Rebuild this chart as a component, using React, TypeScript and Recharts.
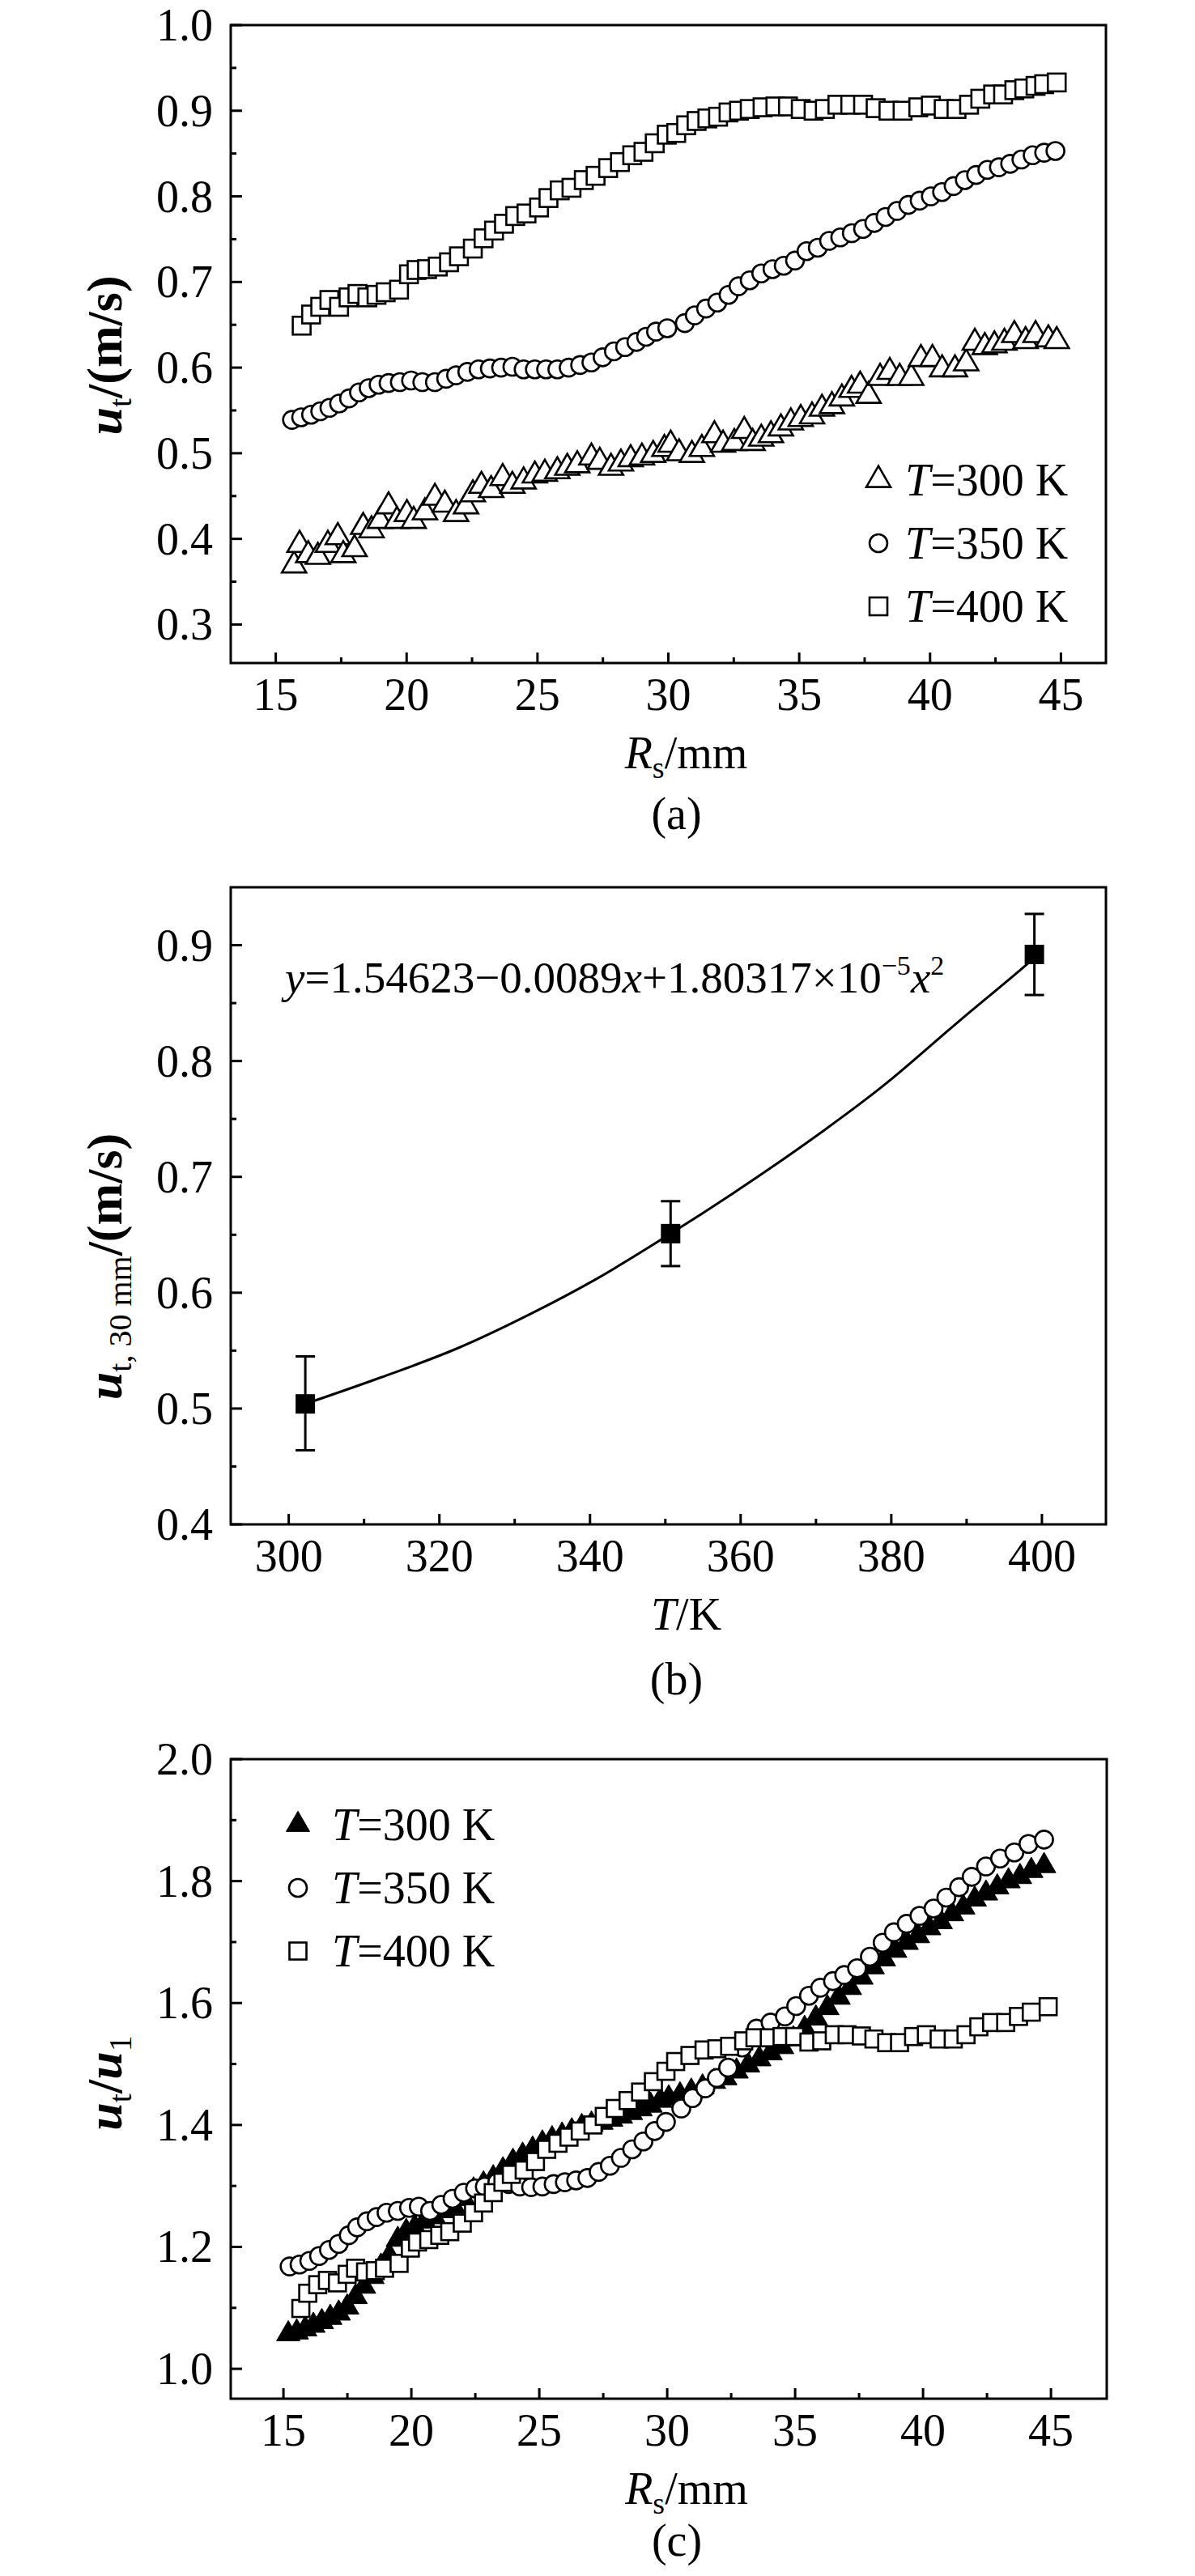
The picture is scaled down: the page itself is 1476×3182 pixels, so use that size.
import React from 'react';
import {
  ScatterChart,
  ComposedChart,
  Scatter,
  Line,
  XAxis,
  YAxis,
  ReferenceArea,
  ErrorBar,
  Legend,
  Label,
} from 'recharts';

const FONT = "'Liberation Serif', 'Times New Roman', serif";
const INK = '#000';
const W = 1476;

// ---------- (a) u_t against R_s, pairs of [R_s (mm), u_t (m/s)]
const a300 = [
  [15.7, 0.369], [15.91, 0.393], [16.24, 0.381], [16.61, 0.379], [16.99, 0.393], [17.37, 0.402],
  [17.58, 0.381], [18.01, 0.388], [18.34, 0.414], [18.66, 0.41], [18.98, 0.421], [19.31, 0.438],
  [19.63, 0.421], [20.01, 0.429], [20.27, 0.421], [20.7, 0.431], [21.08, 0.448], [21.46, 0.44],
  [21.89, 0.429], [22.27, 0.438], [22.53, 0.452], [22.86, 0.462], [23.23, 0.457], [23.67, 0.471],
  [24.04, 0.462], [24.47, 0.467], [24.9, 0.474], [25.28, 0.476], [25.76, 0.479], [26.14, 0.483],
  [26.52, 0.486], [27.06, 0.495], [27.38, 0.49], [27.81, 0.483], [28.19, 0.488], [28.56, 0.493],
  [28.99, 0.495], [29.42, 0.498], [29.85, 0.505], [30.09, 0.51], [30.41, 0.5], [30.9, 0.498],
  [31.28, 0.505], [31.76, 0.521], [32.09, 0.51], [32.52, 0.512], [32.9, 0.526], [33.22, 0.512],
  [33.55, 0.517], [33.92, 0.521], [34.3, 0.529], [34.68, 0.536], [35.06, 0.54], [35.49, 0.543],
  [35.87, 0.552], [36.25, 0.555], [36.63, 0.564], [37.0, 0.574], [37.33, 0.579], [37.65, 0.567],
  [38.09, 0.588], [38.46, 0.595], [38.84, 0.588], [39.28, 0.588], [39.65, 0.61], [40.09, 0.61],
  [40.46, 0.598], [40.95, 0.598], [41.38, 0.605], [41.71, 0.629], [42.09, 0.624], [42.46, 0.626],
  [42.84, 0.629], [43.22, 0.638], [43.65, 0.631], [44.03, 0.638], [44.52, 0.633], [44.84, 0.631],
];
const a350 = [
  [15.62, 0.539], [15.97, 0.542], [16.35, 0.545], [16.7, 0.549], [17.05, 0.553], [17.42, 0.558],
  [17.8, 0.564], [18.18, 0.571], [18.55, 0.576], [18.93, 0.58], [19.31, 0.582], [19.74, 0.583],
  [20.17, 0.585], [20.6, 0.583], [21.08, 0.583], [21.51, 0.587], [21.89, 0.591], [22.32, 0.595],
  [22.75, 0.598], [23.18, 0.599], [23.61, 0.6], [24.04, 0.601], [24.47, 0.598], [24.9, 0.598],
  [25.33, 0.598], [25.76, 0.598], [26.19, 0.6], [26.63, 0.603], [27.06, 0.606], [27.49, 0.612],
  [27.92, 0.619], [28.35, 0.624], [28.78, 0.63], [29.15, 0.636], [29.53, 0.642], [29.96, 0.646],
  [30.63, 0.652], [31.01, 0.661], [31.44, 0.669], [31.87, 0.676], [32.3, 0.685], [32.68, 0.695],
  [33.11, 0.702], [33.55, 0.71], [33.98, 0.715], [34.41, 0.719], [34.84, 0.725], [35.28, 0.736],
  [35.71, 0.74], [36.14, 0.748], [36.57, 0.752], [37.01, 0.757], [37.44, 0.762], [37.87, 0.769],
  [38.3, 0.776], [38.74, 0.783], [39.17, 0.79], [39.6, 0.795], [40.03, 0.8], [40.46, 0.805],
  [40.9, 0.812], [41.33, 0.819], [41.76, 0.825], [42.19, 0.831], [42.63, 0.834], [43.06, 0.838],
  [43.49, 0.843], [43.92, 0.848], [44.36, 0.851], [44.79, 0.853],
];
const a400 = [
  [15.99, 0.649], [16.35, 0.662], [16.7, 0.671], [17.05, 0.679], [17.42, 0.671], [17.78, 0.682],
  [18.12, 0.686], [18.5, 0.682], [18.85, 0.685], [19.2, 0.688], [19.71, 0.691], [20.09, 0.709],
  [20.38, 0.714], [20.78, 0.715], [21.19, 0.718], [21.62, 0.723], [22.0, 0.73], [22.53, 0.739],
  [22.94, 0.751], [23.34, 0.76], [23.72, 0.768], [24.15, 0.777], [24.58, 0.78], [25.06, 0.787],
  [25.42, 0.798], [25.85, 0.807], [26.3, 0.81], [26.77, 0.819], [27.22, 0.824], [27.7, 0.833],
  [28.15, 0.84], [28.62, 0.848], [29.05, 0.852], [29.48, 0.862], [29.94, 0.872], [30.3, 0.874],
  [30.68, 0.883], [31.08, 0.888], [31.49, 0.891], [31.9, 0.893], [32.3, 0.898], [32.7, 0.9],
  [33.11, 0.902], [33.6, 0.904], [34.09, 0.905], [34.57, 0.905], [35.06, 0.902], [35.55, 0.9],
  [35.98, 0.902], [36.46, 0.907], [36.95, 0.907], [37.44, 0.907], [37.92, 0.903], [38.41, 0.9],
  [38.95, 0.9], [39.55, 0.904], [40.03, 0.906], [40.52, 0.902], [41.01, 0.902], [41.49, 0.907],
  [41.92, 0.914], [42.41, 0.919], [42.79, 0.919], [43.22, 0.924], [43.6, 0.926], [44.03, 0.929],
  [44.36, 0.931], [44.84, 0.933],
];

const rsTicks = [15, 20, 25, 30, 35, 40, 45];
const rsMinor = [17.5, 22.5, 27.5, 32.5, 37.5, 42.5];
const aYTicks = [0.3, 0.4, 0.5, 0.6, 0.7, 0.8, 0.9, 1.0];
const aYMinor = [0.35, 0.45, 0.55, 0.65, 0.75, 0.85, 0.95];

// ---------- (b) u_t at 30 mm against T
const bT = [302.2, 350.7, 399.0];
const bU = [0.504, 0.651, 0.892];
const bLow = [0.464, 0.623, 0.857];
const bHigh = [0.545, 0.679, 0.927];
// fitted curve as traced on the figure
const bFit = [
  [302.2, 0.504], [312.3, 0.527], [322.4, 0.552], [332.5, 0.583], [340.6, 0.611], [350.7, 0.651],
  [358.8, 0.685], [368.9, 0.73], [379.0, 0.779], [389.1, 0.835], [397.2, 0.879], [399.0, 0.889],
];
const bXTicks = [300, 320, 340, 360, 380, 400];
const bXMinor = [310, 330, 350, 370, 390];
const bYTicks = [0.4, 0.5, 0.6, 0.7, 0.8, 0.9];
const bYMinor = [0.45, 0.55, 0.65, 0.75, 0.85];

// ---------- (c) u_t/u_1 against R_s
const c300 = [
  [15.19, 1.057], [15.52, 1.06], [15.85, 1.065], [16.17, 1.071], [16.5, 1.077], [16.83, 1.084],
  [17.16, 1.091], [17.49, 1.101], [17.82, 1.118], [18.15, 1.135], [18.48, 1.151], [18.81, 1.168],
  [19.14, 1.185], [19.47, 1.212], [19.8, 1.225], [20.13, 1.232], [20.51, 1.242], [20.89, 1.249],
  [21.28, 1.259], [21.66, 1.266], [22.05, 1.279], [22.43, 1.293], [22.82, 1.303], [23.2, 1.313],
  [23.58, 1.326], [23.97, 1.34], [24.35, 1.35], [24.74, 1.36], [25.12, 1.37], [25.5, 1.377],
  [25.89, 1.383], [26.27, 1.39], [26.66, 1.397], [27.04, 1.401], [27.43, 1.404], [27.81, 1.409],
  [28.19, 1.414], [28.58, 1.42], [28.96, 1.426], [29.35, 1.432], [29.73, 1.44], [30.06, 1.444],
  [30.5, 1.449], [30.94, 1.455], [31.38, 1.462], [31.83, 1.471], [32.27, 1.477], [32.71, 1.488],
  [33.16, 1.498], [33.6, 1.508], [34.04, 1.518], [34.49, 1.528], [34.93, 1.541], [35.37, 1.558],
  [35.81, 1.575], [36.26, 1.592], [36.7, 1.609], [37.14, 1.625], [37.59, 1.642], [38.03, 1.659],
  [38.47, 1.672], [38.91, 1.686], [39.36, 1.699], [39.8, 1.71], [40.24, 1.723], [40.69, 1.733],
  [41.13, 1.746], [41.57, 1.757], [42.02, 1.77], [42.46, 1.78], [42.9, 1.79], [43.34, 1.8],
  [43.79, 1.807], [44.23, 1.817], [44.73, 1.825],
];
const c350 = [
  [15.24, 1.168], [15.63, 1.171], [16.01, 1.177], [16.39, 1.185], [16.78, 1.195], [17.16, 1.205],
  [17.55, 1.219], [17.88, 1.232], [18.26, 1.242], [18.64, 1.249], [19.03, 1.256], [19.47, 1.259],
  [19.91, 1.264], [20.29, 1.266], [20.73, 1.259], [21.17, 1.269], [21.61, 1.279], [22.05, 1.289],
  [22.49, 1.296], [22.87, 1.299], [23.36, 1.306], [23.8, 1.303], [24.24, 1.299], [24.68, 1.298],
  [25.12, 1.299], [25.56, 1.303], [26.0, 1.306], [26.44, 1.309], [26.88, 1.313], [27.32, 1.323],
  [27.76, 1.333], [28.19, 1.346], [28.63, 1.36], [29.07, 1.373], [29.51, 1.39], [29.95, 1.405],
  [30.55, 1.427], [30.99, 1.444], [31.49, 1.46], [31.94, 1.477], [32.38, 1.494], [32.93, 1.527],
  [33.49, 1.558], [34.04, 1.568], [34.6, 1.578], [35.04, 1.595], [35.54, 1.612], [35.98, 1.625],
  [36.48, 1.636], [36.92, 1.646], [37.42, 1.657], [37.92, 1.676], [38.42, 1.699], [38.86, 1.716],
  [39.36, 1.73], [39.86, 1.743], [40.41, 1.755], [40.91, 1.773], [41.41, 1.79], [41.9, 1.807],
  [42.46, 1.824], [43.01, 1.837], [43.57, 1.847], [44.12, 1.861], [44.73, 1.868],
];
const c400 = [
  [15.68, 1.099], [15.95, 1.124], [16.34, 1.138], [16.72, 1.145], [17.11, 1.141], [17.49, 1.155],
  [17.82, 1.165], [18.21, 1.159], [18.59, 1.161], [18.95, 1.165], [19.52, 1.173], [19.96, 1.198],
  [20.24, 1.208], [20.68, 1.212], [21.11, 1.219], [21.5, 1.225], [21.99, 1.239], [22.43, 1.256],
  [22.82, 1.272], [23.2, 1.289], [23.58, 1.306], [23.91, 1.319], [24.41, 1.326], [24.85, 1.34],
  [25.29, 1.36], [25.73, 1.37], [26.16, 1.38], [26.6, 1.39], [27.1, 1.4], [27.54, 1.414],
  [27.97, 1.427], [28.47, 1.44], [28.96, 1.454], [29.46, 1.471], [29.95, 1.488], [30.33, 1.504],
  [30.89, 1.514], [31.44, 1.523], [31.94, 1.525], [32.44, 1.529], [32.99, 1.538], [33.43, 1.543],
  [33.99, 1.543], [34.49, 1.545], [34.98, 1.545], [35.54, 1.536], [36.04, 1.538], [36.53, 1.548],
  [37.03, 1.548], [37.59, 1.546], [38.08, 1.541], [38.58, 1.535], [39.08, 1.535], [39.63, 1.545],
  [40.13, 1.548], [40.63, 1.541], [41.18, 1.541], [41.68, 1.548], [42.18, 1.561], [42.68, 1.568],
  [43.23, 1.568], [43.73, 1.578], [44.23, 1.585], [44.89, 1.594],
];
const cYTicks = [1.0, 1.2, 1.4, 1.6, 1.8, 2.0];
const cYMinor = [1.1, 1.3, 1.5, 1.7, 1.9];

const names = ['T=300 K', 'T=350 K', 'T=400 K'];

const pts = (arr: number[][]) => arr.map(([x, y]) => ({ x, y }));
const merged = (a: number[], b: number[]) => [...a, ...b].sort((p, q) => p - q);
const isMajor = (list: number[], v: number) => list.some((m) => Math.abs(m - v) < 1e-6);

// ---------- markers
type Mark = (cx: number, cy: number) => React.ReactElement;
const openSquare = (s: number): Mark => (cx, cy) => (
  <rect x={cx - s / 2} y={cy - s / 2} width={s} height={s} fill="#fff" stroke={INK} strokeWidth={2.6} />
);
const openCircle = (r: number): Mark => (cx, cy) => (
  <circle cx={cx} cy={cy} r={r} fill="#fff" stroke={INK} strokeWidth={2.6} />
);
const triangle = (side: number, filled: boolean): Mark => (cx, cy) => {
  const h = (side * Math.sqrt(3)) / 2;
  const d = `M${cx},${cy - (2 * h) / 3} L${cx - side / 2},${cy + h / 3} L${cx + side / 2},${cy + h / 3} Z`;
  return <path d={d} fill={filled ? INK : '#fff'} stroke={INK} strokeWidth={filled ? 1 : 2.6} />;
};

const marksA: Record<string, Mark> = {
  'T=300 K': triangle(30, false),
  'T=350 K': openCircle(11),
  'T=400 K': openSquare(22),
};
const marksC: Record<string, Mark> = {
  'T=300 K': triangle(29, true),
  'T=350 K': openCircle(11),
  'T=400 K': openSquare(21),
};

// ---------- ticks drawn inwards, labels outside
function XTick(props: any) {
  const { x, y, payload, majors } = props;
  const major = isMajor(majors, payload.value);
  return (
    <g>
      <line x1={x} x2={x} y1={y} y2={y - (major ? 13 : 7)} stroke={INK} strokeWidth={3} />
      {major && (
        <text x={x} y={y + 58} textAnchor="middle" fontFamily={FONT} fontSize={56} fill={INK}>
          {payload.value}
        </text>
      )}
    </g>
  );
}

function YTick(props: any) {
  const { x, y, payload, majors } = props;
  const major = isMajor(majors, payload.value);
  return (
    <g>
      <line x1={x} x2={x + (major ? 14 : 7)} y1={y} y2={y} stroke={INK} strokeWidth={3} />
      {major && (
        <text x={x - 22} y={y + 19} textAnchor="end" fontFamily={FONT} fontSize={56} fill={INK}>
          {Number(payload.value).toFixed(1)}
        </text>
      )}
    </g>
  );
}

function XTitle(props: any) {
  const { viewBox, caption, capDy = 210, children } = props;
  const cx = viewBox.x + viewBox.width / 2;
  return (
    <g fontFamily={FONT} fontSize={56} fill={INK}>
      <text x={cx + 22} y={viewBox.y + 130} textAnchor="middle">
        {children}
      </text>
      <text x={cx + 10} y={viewBox.y + capDy} textAnchor="middle">
        {caption}
      </text>
    </g>
  );
}

function YTitle(props: any) {
  const { viewBox, shift, children, extra } = props;
  const bx = 150;
  const cy = viewBox.y + viewBox.height / 2 + shift;
  return (
    <g>
      <text
        x={bx}
        y={cy}
        transform={`rotate(-90 ${bx} ${cy})`}
        textAnchor="middle"
        fontFamily={FONT}
        fontSize={62}
        fontWeight="bold"
        fill={INK}
      >
        {children}
      </text>
      {extra ? extra(viewBox) : null}
    </g>
  );
}

function LegendBox({ payload, marks, gap }: any) {
  return (
    <div style={{ fontFamily: FONT, fontSize: 56, color: INK }}>
      {(payload || []).map((e: any) => (
        <div key={e.value} style={{ display: 'flex', alignItems: 'center', height: 78, whiteSpace: 'nowrap' }}>
          <svg width={36} height={36} style={{ overflow: 'visible' }}>
            {marks[e.value] ? marks[e.value](18, 18) : null}
          </svg>
          <span style={{ marginLeft: gap, lineHeight: 1 }}>
            <i>T</i>
            {String(e.value).slice(1)}
          </span>
        </div>
      ))}
    </div>
  );
}

// axes keep a 1px box (a zero-sized axis is not drawn at all)
const axisCommon = {
  type: 'number' as const,
  allowDataOverflow: true,
  interval: 0 as const,
  tickSize: 0,
  tickMargin: 0,
  axisLine: false,
  tickLine: false,
};

function PanelA() {
  const xDom = [13.28, 46.72];
  const yDom = [0.255, 1.0];
  const series = [a300, a350, a400];
  return (
    <ScatterChart width={W} height={1060} margin={{ top: 31, right: 110, bottom: 240, left: 284 }}>
      <XAxis
        {...axisCommon}
        dataKey="x"
        domain={xDom}
        ticks={merged(rsTicks, rsMinor)}
        height={1}
        tick={(p: any) => <XTick {...p} majors={rsTicks} />}
      >
        <Label
          content={(p: any) => (
            <XTitle {...p} caption="(a)" capDy={205}>
              <tspan fontStyle="italic">R</tspan>
              <tspan fontSize={38} dy={12}>s</tspan>
              <tspan dy={-12}>/mm</tspan>
            </XTitle>
          )}
        />
      </XAxis>
      <YAxis
        {...axisCommon}
        dataKey="y"
        domain={yDom}
        ticks={merged(aYTicks, aYMinor)}
        width={1}
        tick={(p: any) => <YTick {...p} majors={aYTicks} />}
      >
        <Label
          content={(p: any) => (
            <YTitle {...p} shift={14}>
              <tspan fontStyle="italic">u</tspan>
              <tspan fontSize={40} fontWeight="normal" dy={12}>t</tspan>
              <tspan dy={-12}>/(m/s)</tspan>
            </YTitle>
          )}
        />
      </YAxis>
      {series.map((s, i) => (
        <Scatter
          key={names[i]}
          name={names[i]}
          data={pts(s)}
          isAnimationActive={false}
          shape={(p: any) => marksA[names[i]](p.cx, p.cy)}
        />
      ))}
      <ReferenceArea
        x1={xDom[0]}
        x2={xDom[1]}
        y1={yDom[0]}
        y2={yDom[1]}
        fill="none"
        stroke={INK}
        strokeWidth={3}
        ifOverflow="visible"
      />
      <Legend
        layout="vertical"
        align="center"
        verticalAlign="middle"
        wrapperStyle={{ left: 1067, top: 554, width: 'auto', height: 'auto' }}
        content={(p: any) => <LegendBox payload={p.payload} marks={marksA} gap={15} />}
      />
    </ScatterChart>
  );
}

function PanelB() {
  const xDom = [292.3, 408.5];
  const yDom = [0.4, 0.95];
  const points = bT.map((t, i) => ({ x: t, y: bU[i], err: [bU[i] - bLow[i], bHigh[i] - bU[i]] }));
  return (
    <ComposedChart width={W} height={1060} margin={{ top: 36, right: 110, bottom: 236, left: 284 }}>
      <XAxis
        {...axisCommon}
        dataKey="x"
        domain={xDom}
        ticks={merged(bXTicks, bXMinor)}
        height={1}
        tick={(p: any) => <XTick {...p} majors={bXTicks} />}
      >
        <Label
          content={(p: any) => (
            <XTitle {...p} caption="(b)">
              <tspan fontStyle="italic">T</tspan>
              <tspan>/K</tspan>
            </XTitle>
          )}
        />
      </XAxis>
      <YAxis
        {...axisCommon}
        dataKey="y"
        domain={yDom}
        ticks={merged(bYTicks, bYMinor)}
        width={1}
        tick={(p: any) => <YTick {...p} majors={bYTicks} />}
      >
        <Label
          content={(p: any) => (
            <YTitle
              {...p}
              shift={75}
              extra={(vb: any) => (
                <text x={vb.x + 68} y={vb.y + 130} fontFamily={FONT} fontSize={55} fill={INK}>
                  <tspan fontStyle="italic">y</tspan>
                  <tspan>=1.54623−0.0089</tspan>
                  <tspan fontStyle="italic">x</tspan>
                  <tspan>+1.80317×10</tspan>
                  <tspan fontSize={34} dy={-22}>−5</tspan>
                  <tspan fontStyle="italic" dy={22}>x</tspan>
                  <tspan fontSize={34} dy={-22}>2</tspan>
                </text>
              )}
            >
              <tspan fontStyle="italic">u</tspan>
              <tspan fontSize={40} fontWeight="normal" dy={12}>t, 30 mm</tspan>
              <tspan dy={-12}>/(m/s)</tspan>
            </YTitle>
          )}
        />
      </YAxis>
      <Line
        data={pts(bFit)}
        dataKey="y"
        type="monotone"
        stroke={INK}
        strokeWidth={3}
        dot={false}
        activeDot={false}
        isAnimationActive={false}
      />
      <Scatter
        data={points}
        dataKey="y"
        isAnimationActive={false}
        shape={(p: any) => <rect x={p.cx - 12} y={p.cy - 12} width={24} height={24} fill={INK} />}
      >
        <ErrorBar dataKey="err" direction="y" width={12} stroke={INK} strokeWidth={3} isAnimationActive={false} />
      </Scatter>
      <ReferenceArea
        x1={xDom[0]}
        x2={xDom[1]}
        y1={yDom[0]}
        y2={yDom[1]}
        fill="none"
        stroke={INK}
        strokeWidth={3}
        ifOverflow="visible"
      />
    </ComposedChart>
  );
}

function PanelC() {
  const xDom = [12.94, 47.18];
  const yDom = [0.951, 2.0];
  const series = [c300, c350, c400];
  return (
    <ScatterChart width={W} height={1062} margin={{ top: 53, right: 109, bottom: 218, left: 284 }}>
      <XAxis
        {...axisCommon}
        dataKey="x"
        domain={xDom}
        ticks={merged(rsTicks, rsMinor)}
        height={1}
        tick={(p: any) => <XTick {...p} majors={rsTicks} />}
      >
        <Label
          content={(p: any) => (
            <XTitle {...p} caption="(c)" capDy={194}>
              <tspan fontStyle="italic">R</tspan>
              <tspan fontSize={38} dy={12}>s</tspan>
              <tspan dy={-12}>/mm</tspan>
            </XTitle>
          )}
        />
      </XAxis>
      <YAxis
        {...axisCommon}
        dataKey="y"
        domain={yDom}
        ticks={merged(cYTicks, cYMinor)}
        width={1}
        tick={(p: any) => <YTick {...p} majors={cYTicks} />}
      >
        <Label
          content={(p: any) => (
            <YTitle {...p} shift={5}>
              <tspan fontStyle="italic">u</tspan>
              <tspan fontSize={40} fontWeight="normal" dy={12}>t</tspan>
              <tspan dy={-12}>/</tspan>
              <tspan fontStyle="italic">u</tspan>
              <tspan fontSize={40} fontWeight="normal" dy={12}>1</tspan>
            </YTitle>
          )}
        />
      </YAxis>
      {series.map((s, i) => (
        <Scatter
          key={names[i]}
          name={names[i]}
          data={pts(s)}
          isAnimationActive={false}
          shape={(p: any) => marksC[names[i]](p.cx, p.cy)}
        />
      ))}
      <ReferenceArea
        x1={xDom[0]}
        x2={xDom[1]}
        y1={yDom[0]}
        y2={yDom[1]}
        fill="none"
        stroke={INK}
        strokeWidth={3}
        ifOverflow="visible"
      />
      <Legend
        layout="vertical"
        align="center"
        verticalAlign="middle"
        wrapperStyle={{ left: 350, top: 95, width: 'auto', height: 'auto' }}
        content={(p: any) => <LegendBox payload={p.payload} marks={marksC} gap={24} />}
      />
    </ScatterChart>
  );
}

export default function App() {
  return (
    <div style={{ position: 'relative', width: W, height: 3182, background: '#fff' }}>
      <style>{'body{margin:0;background:#fff}'}</style>
      <div style={{ position: 'absolute', left: 0, top: 0 }}>
        <PanelA />
      </div>
      <div style={{ position: 'absolute', left: 0, top: 1060 }}>
        <PanelB />
      </div>
      <div style={{ position: 'absolute', left: 0, top: 2120 }}>
        <PanelC />
      </div>
    </div>
  );
}
